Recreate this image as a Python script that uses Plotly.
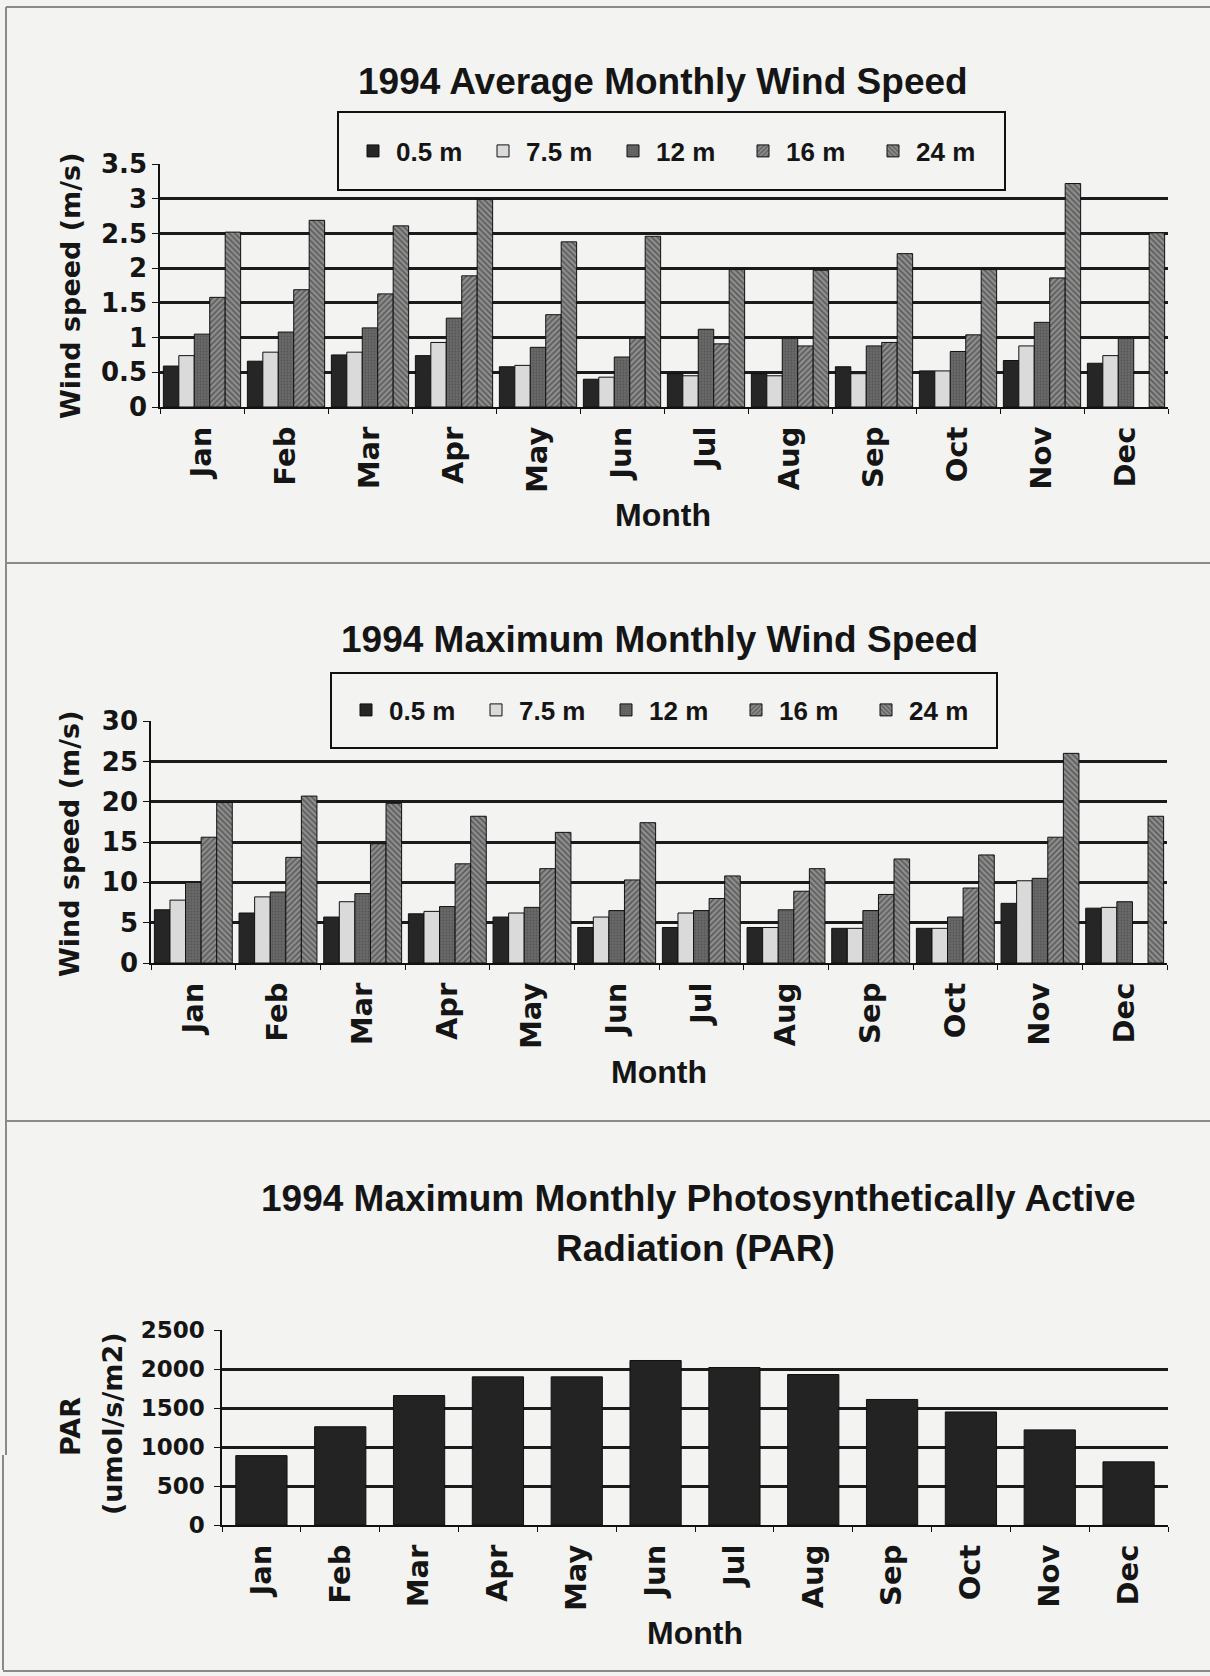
import plotly.graph_objects as go

# --- data -------------------------------------------------------------
months = ["Jan", "Feb", "Mar", "Apr", "May", "Jun",
          "Jul", "Aug", "Sep", "Oct", "Nov", "Dec"]
heights = ["0.5 m", "7.5 m", "12 m", "16 m", "24 m"]

# average monthly wind speed (m/s) by sensor height
avg_05 = [0.59, 0.66, 0.75, 0.74, 0.58, 0.40, 0.48, 0.48, 0.58, 0.52, 0.67, 0.63]
avg_75 = [0.74, 0.79, 0.79, 0.93, 0.60, 0.43, 0.45, 0.45, 0.48, 0.52, 0.88, 0.74]
avg_12 = [1.05, 1.08, 1.14, 1.28, 0.86, 0.72, 1.12, 0.99, 0.88, 0.80, 1.22, 0.99]
avg_16 = [1.58, 1.69, 1.63, 1.89, 1.33, 0.99, 0.91, 0.88, 0.93, 1.04, 1.86, None]
avg_24 = [2.52, 2.69, 2.61, 2.99, 2.38, 2.46, 1.98, 1.97, 2.21, 1.98, 3.22, 2.51]

# maximum monthly wind speed (m/s) by sensor height
max_05 = [6.6, 6.2, 5.7, 6.1, 5.7, 4.4, 4.4, 4.4, 4.3, 4.3, 7.4, 6.8]
max_75 = [7.8, 8.2, 7.6, 6.4, 6.2, 5.7, 6.2, 4.4, 4.3, 4.3, 10.2, 6.9]
max_12 = [10.0, 8.8, 8.6, 7.0, 6.9, 6.5, 6.5, 6.6, 6.5, 5.7, 10.5, 7.6]
max_16 = [15.6, 13.1, 14.8, 12.3, 11.7, 10.3, 8.0, 8.9, 8.5, 9.3, 15.6, None]
max_24 = [19.9, 20.7, 19.8, 18.2, 16.2, 17.4, 10.8, 11.7, 12.9, 13.4, 26.0, 18.2]

# maximum monthly PAR (umol/s/m2)
par_max = [890, 1260, 1660, 1900, 1900, 2110, 2020, 1930, 1610, 1450, 1220, 810]

avg_series = [avg_05, avg_75, avg_12, avg_16, avg_24]
max_series = [max_05, max_75, max_12, max_16, max_24]

# --- styling ----------------------------------------------------------
W, H = 1210, 1676
PAPER = "#f3f3f1"
INK = "#151515"
TITLE_FONT = dict(family="Liberation Sans, Arial, sans-serif", color=INK, weight="bold")
HEAVY_FONT = dict(family="DejaVu Sans, sans-serif", color=INK, weight="bold")

bar_styles = [
    dict(color="#262626"),
    dict(color="#dadada"),
    dict(color="#686868", pattern=dict(shape=".", fgcolor="#454545", size=3, solidity=0.3)),
    dict(color="#8e8e8e", pattern=dict(shape="/", fgcolor="#262626", size=4, solidity=0.4)),
    dict(color="#8e8e8e", pattern=dict(shape="\\", fgcolor="#262626", size=4, solidity=0.4)),
]


def px_x(x):
    return x / W


def px_y(y):
    return 1 - y / H


fig = go.Figure()

# wind speed panels
for series, xa, ya, leg in [(avg_series, "x", "y", "legend"),
                             (max_series, "x2", "y2", "legend2")]:
    for name, vals, style in zip(heights, series, bar_styles):
        fig.add_trace(go.Bar(
            x=months, y=vals, name=name, xaxis=xa, yaxis=ya, legend=leg,
            marker=dict(**style, line=dict(color="#111111", width=1)),
        ))

# PAR panel
fig.add_trace(go.Bar(
    x=months, y=par_max, xaxis="x3", yaxis="y3", showlegend=False, width=0.65,
    marker=dict(color="#232323", line=dict(color="#111111", width=1)),
))

grid = dict(showgrid=True, gridcolor="#1b1b1b", gridwidth=2.5,
            showline=True, linecolor="#111111", linewidth=1.5,
            ticks="outside", ticklen=6, tickcolor="#111111",
            tickfont=dict(size=26, **HEAVY_FONT), zeroline=False,
            ticklabelstandoff=0, automargin=False)
cat = dict(type="category", showgrid=False, showline=True, linecolor="#111111",
           linewidth=2, ticks="outside", ticklen=5, tickcolor="#111111",
           tickson="boundaries", tickangle=-90,
           tickfont=dict(size=29, **HEAVY_FONT), ticklabelstandoff=6,
           automargin=False)

legend_style = dict(orientation="h", xanchor="left", yanchor="middle",
                    bgcolor="rgba(0,0,0,0)", borderwidth=0,
                    font=dict(size=26, **TITLE_FONT),
                    entrywidth=79, entrywidthmode="pixels", itemwidth=36)

fig.update_layout(
    width=W, height=H,
    margin=dict(l=0, r=0, t=0, b=0, autoexpand=False),
    paper_bgcolor=PAPER, plot_bgcolor=PAPER,
    barmode="group", bargap=0.08, bargroupgap=0,
    xaxis=dict(cat, domain=[px_x(160), px_x(1168)], anchor="y"),
    yaxis=dict(grid, domain=[px_y(407), px_y(164)], anchor="x",
               range=[0, 3.5015], dtick=0.5),
    xaxis2=dict(cat, domain=[px_x(151), px_x(1167)], anchor="y2"),
    yaxis2=dict(grid, domain=[px_y(963), px_y(721)], anchor="x2",
                range=[0, 30.012], dtick=5),
    xaxis3=dict(cat, domain=[px_x(222), px_x(1168)], anchor="y3"),
    yaxis3=dict(grid, domain=[px_y(1525), px_y(1330)], anchor="x3",
                range=[0, 2501], dtick=500, ticklabelstandoff=5,
                tickfont=dict(size=23, **HEAVY_FONT)),
    legend=dict(legend_style, x=px_x(350), y=px_y(151)),
    legend2=dict(legend_style, x=px_x(343), y=px_y(710)),
)

# legend frames (opaque, so gridlines stop at the box)
for x0, x1, y0, y1 in [(338, 1005, 112, 190), (331, 997, 673, 748)]:
    fig.add_shape(type="rect", xref="paper", yref="paper", layer="above",
                  x0=px_x(x0), x1=px_x(x1), y0=px_y(y1), y1=px_y(y0),
                  fillcolor=PAPER, line=dict(color="#111111", width=2))

annots = [
    ("1994 Average Monthly Wind Speed", 663, 82, 37, TITLE_FONT, 0),
    ("Wind speed (m/s)", 70, 286, 27, HEAVY_FONT, -90),
    ("Month", 663, 515, 32, TITLE_FONT, 0),
    ("1994 Maximum Monthly Wind Speed", 659, 640, 37, TITLE_FONT, 0),
    ("Wind speed (m/s)", 69, 844, 27, HEAVY_FONT, -90),
    ("Month", 659, 1072, 32, TITLE_FONT, 0),
    ("1994 Maximum Monthly Photosynthetically Active", 698, 1198, 37, TITLE_FONT, 0),
    ("Radiation (PAR)", 695, 1248, 37, TITLE_FONT, 0),
    ("PAR", 70, 1427, 27, HEAVY_FONT, -90),
    ("(umol/s/m2)", 112, 1424, 27, HEAVY_FONT, -90),
    ("Month", 695, 1633, 32, TITLE_FONT, 0),
]
for text, x, y, size, font, angle in annots:
    fig.add_annotation(text=text, x=px_x(x), y=px_y(y), xref="paper", yref="paper",
                       xanchor="center", yanchor="middle", showarrow=False,
                       textangle=angle, font=dict(size=size, **font))

# page frame and panel separators
frame = dict(type="line", xref="paper", yref="paper",
             line=dict(color="#8a8a8a", width=2))
fig.add_shape(frame, x0=px_x(6), x1=1, y0=px_y(7), y1=px_y(7))
fig.add_shape(frame, x0=px_x(6), x1=px_x(6), y0=px_y(7), y1=px_y(1455))
fig.add_shape(frame, x0=px_x(6), x1=1, y0=px_y(563), y1=px_y(563))
fig.add_shape(frame, x0=px_x(6), x1=1, y0=px_y(1121), y1=px_y(1121))
fig.add_shape(frame, x0=px_x(3), x1=px_x(3), y0=px_y(1455), y1=px_y(1670))
fig.add_shape(frame, x0=px_x(3), x1=1, y0=px_y(1671), y1=px_y(1671))

fig.write_html("out.html")
